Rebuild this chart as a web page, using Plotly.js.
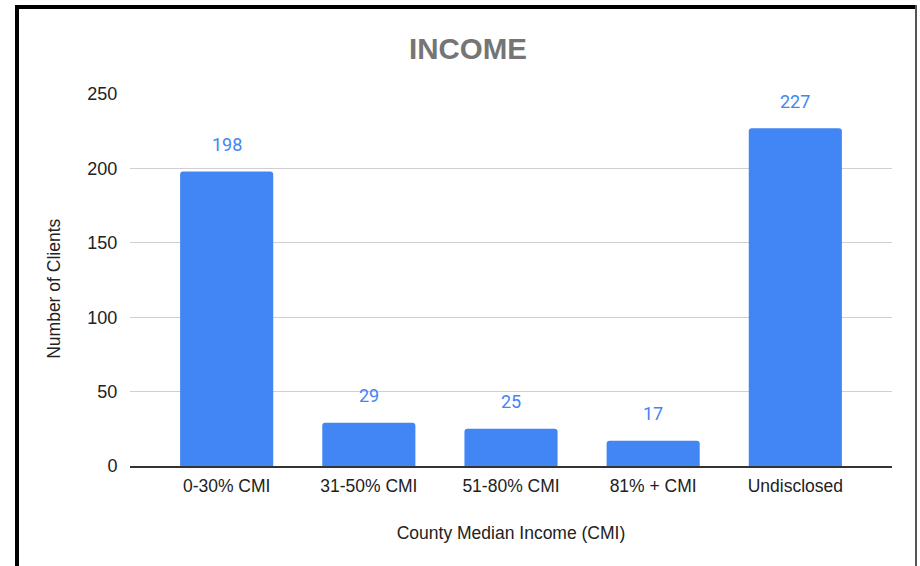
<!DOCTYPE html>
<html>
<head>
<meta charset="utf-8">
<script src="https://cdn.plot.ly/plotly-3.0.1.min.js"></script>
<style>
  html, body { margin: 0; padding: 0; background: #fff; }
  #wrap { position: relative; width: 920px; height: 566px; overflow: hidden; }
  #chart { position: absolute; left: 0; top: 0; width: 920px; height: 566px; }
  .frame { position: absolute; pointer-events: none; }
</style>
</head>
<body>
<div id="wrap">
  <div id="chart"></div>
  <div class="frame" style="left:15px; top:5px; width:902px; height:4px; background:#000;"></div>
  <div class="frame" style="left:15px; top:5px; width:4px; height:561px; background:#000;"></div>
  <div class="frame" style="left:915px; top:5px; width:2px; height:561px; background:#555;"></div>
</div>
<script>
const categories = ["0-30% CMI", "31-50% CMI", "51-80% CMI", "81% + CMI", "Undisclosed"];
const clients = [198, 29, 25, 17, 227];
const yTicks = [0, 50, 100, 150, 200, 250];

const barColor = "#4285f4";
const font = "Liberation Sans, Arial, sans-serif";

const trace = {
  type: "bar",
  x: categories.map((_, i) => i),
  y: clients,
  width: 0.655,
  marker: { color: barColor, cornerradius: 3, line: { width: 0 } },
  hoverinfo: "none"
};

const annotations = clients.map((v, i) => ({
  x: i, y: v, xref: "x", yref: "y",
  text: String(v), showarrow: false,
  yanchor: "middle", yshift: 27,
  font: { family: "Roboto, " + font, size: 18, color: barColor }
}));

annotations.push({
  xref: "paper", yref: "paper", x: -0.1, y: (466 - 289) / 372,
  xanchor: "center", yanchor: "middle",
  text: "Number of Clients", textangle: -90, showarrow: false,
  font: { family: font, size: 17.5, color: "#222" }
});

const layout = {
  width: 920, height: 566,
  margin: { l: 130, r: 28, t: 94, b: 100 },
  paper_bgcolor: "#fff", plot_bgcolor: "#fff",
  showlegend: false,
  title: {
    text: "<b>INCOME</b>",
    xref: "container", x: 468 / 920, xanchor: "center",
    yref: "container", y: 1 - 49 / 566, yanchor: "middle",
    font: { family: font, size: 29.5, color: "#757575" }
  },
  xaxis: {
    range: [-0.68, 4.68],
    tickmode: "array",
    tickvals: categories.map((_, i) => i),
    ticktext: categories,
    showgrid: false, zeroline: false,
    showline: true, linecolor: "#333", linewidth: 1.5,
    ticks: "outside", ticklen: 3, tickcolor: "rgba(0,0,0,0)",
    tickfont: { family: font, size: 17.5, color: "#222" },
    title: { text: "County Median Income (CMI)", standoff: 32,
             font: { family: font, size: 17.5, color: "#222" } },
    fixedrange: true
  },
  yaxis: {
    range: [0, 250],
    tickmode: "array", tickvals: yTicks, ticktext: yTicks.map(String),
    showgrid: true, gridcolor: "#d0d0d0", gridwidth: 1,
    zeroline: false, showline: false,
    ticks: "outside", ticklen: 8, tickcolor: "rgba(0,0,0,0)",
    tickfont: { family: font, size: 18, color: "#222" },
    fixedrange: true
  },
  annotations: annotations
};

Plotly.newPlot("chart", [trace], layout, { displayModeBar: false, staticPlot: true });
</script>
</body>
</html>
